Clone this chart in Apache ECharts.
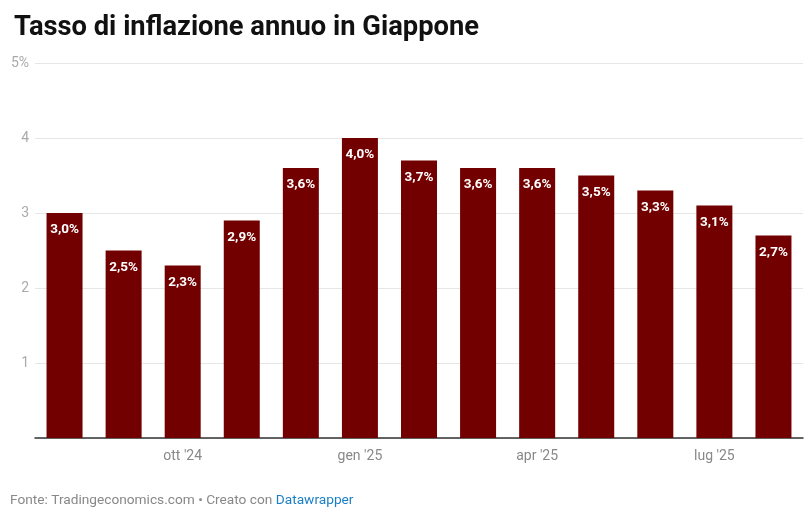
<!DOCTYPE html>
<html>
<head>
<meta charset="utf-8">
<script src="https://cdn.jsdelivr.net/npm/echarts@6/dist/echarts.min.js"></script>
<style>
html,body{margin:0;padding:0;background:#fff;}
#c{width:807px;height:517px;}
</style>
</head>
<body>
<div id="c"></div>
<script>
var categories = ['ago \'24','set \'24','ott \'24','nov \'24','dic \'24','gen \'25','feb \'25','mar \'25','apr \'25','mag \'25','giu \'25','lug \'25','ago \'25'];
var shownLabels = ['ott \'24','gen \'25','apr \'25','lug \'25'];
var inflation = [3.0, 2.5, 2.3, 2.9, 3.6, 4.0, 3.7, 3.6, 3.6, 3.5, 3.3, 3.1, 2.7];
var yTicks = [0, 1, 2, 3, 4, 5];

var chart = echarts.init(document.getElementById('c'), null, {renderer: 'canvas'});
chart.setOption({
  animation: false,
  backgroundColor: '#ffffff',
  title: {
    text: 'Tasso di inflazione annuo in Giappone',
    left: 9, top: 10,
    textStyle: {fontFamily: 'Roboto', fontWeight: 'bold', fontSize: 27.3, color: '#111111'}
  },
  grid: {left: 35, right: 4, top: 63, bottom: 79, containLabel: false},
  xAxis: {
    type: 'category',
    data: categories,
    axisLine: {show: true, lineStyle: {color: '#333333', width: 1.5}},
    axisTick: {show: false},
    axisLabel: {
      interval: 0,
      margin: 11,
      fontFamily: 'Roboto', fontSize: 14, color: '#888888',
      formatter: function (v) { return shownLabels.indexOf(v) >= 0 ? v : ''; }
    },
    splitLine: {show: false}
  },
  yAxis: {
    type: 'value',
    min: yTicks[0], max: yTicks[yTicks.length - 1], interval: 1,
    axisLine: {show: false},
    axisTick: {show: false},
    axisLabel: {
      margin: 6,
      fontFamily: 'Roboto', fontSize: 14, color: '#aaaaaa',
      formatter: function (v) { return v === 0 ? '' : (v === 5 ? v + '%' : String(v)); }
    },
    splitLine: {show: true, lineStyle: {color: '#e6e6e6', width: 1}}
  },
  series: [{
    type: 'bar',
    data: inflation,
    barWidth: 36,
    itemStyle: {color: '#730000'},
    label: {
      show: true,
      position: 'insideTop',
      distance: 10,
      fontFamily: 'Roboto', fontSize: 13.5, fontWeight: 'bold', color: '#ffffff',
      formatter: function (p) { return p.value.toFixed(1).replace('.', ',') + '%'; }
    }
  }],
  graphic: [{
    type: 'text',
    left: 10, top: 494,
    style: {
      text: '{a|Fonte: Tradingeconomics.com • Creato con }{b|Datawrapper}',
      rich: {
        a: {fontFamily: 'Roboto', fontSize: 13.7, fill: '#888888'},
        b: {fontFamily: 'Roboto', fontSize: 13.7, fill: '#1b7fc4'}
      }
    }
  }]
});
</script>
</body>
</html>
